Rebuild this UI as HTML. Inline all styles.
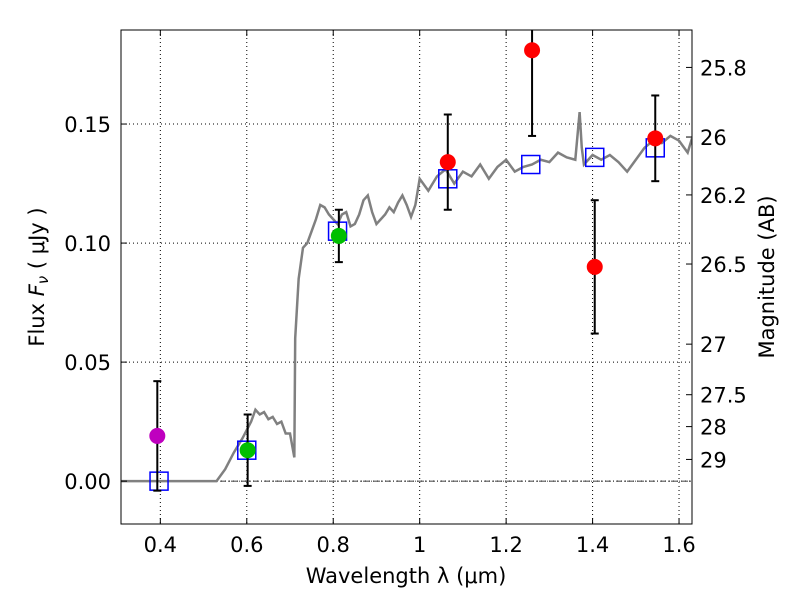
<!DOCTYPE html>
<html><head><meta charset="utf-8"><style>
html,body{margin:0;padding:0;background:#fff;}
svg text{font-family:"DejaVu Sans","Liberation Sans",sans-serif;fill:#000;}
</style></head><body>
<svg id="chart" width="800" height="600" viewBox="0 0 800 600" xmlns="http://www.w3.org/2000/svg">
<defs><clipPath id="plotclip"><rect x="121" y="30" width="571" height="494"/></clipPath></defs>
<rect width="800" height="600" fill="#fff"/>
<g id="grid"></g>
<g id="spec" clip-path="url(#plotclip)"></g>
<g id="marks" clip-path="url(#plotclip)"></g>
<rect x="121" y="30" width="571" height="494" fill="none" stroke="#000" stroke-width="1"/>
<g id="axes"></g>
<text x="406" y="583" font-size="21" text-anchor="middle">Wavelength  λ (μm)</text>
<text transform="translate(44,277) rotate(-90)" font-size="21" text-anchor="middle">Flux  <tspan font-style="italic">F</tspan><tspan font-style="italic" font-size="15" dy="4">ν</tspan><tspan dy="-4">  ( μJy )</tspan></text>
<text transform="translate(774,277) rotate(-90)" font-size="21" text-anchor="middle">Magnitude (AB)</text>
</svg>
<script>
const xTicks=[0.4,0.6,0.8,1.0,1.2,1.4,1.6];
const xTickLabels=["0.4","0.6","0.8","1","1.2","1.4","1.6"];
const yTicks=[0,0.05,0.10,0.15];
const yTickLabels=["0.00","0.05","0.10","0.15"];
const magTicks=[25.8,26,26.2,26.5,27,27.5,28,29];
const magTickLabels=["25.8","26","26.2","26.5","27","27.5","28","29"];
const specLam=[0.31,0.53,0.55,0.57,0.59,0.61,0.62,0.63,0.64,0.65,0.66,0.67,0.68,0.69,0.70,0.71,0.712,0.72,0.73,0.74,0.75,0.76,0.77,0.78,0.79,0.80,0.81,0.82,0.83,0.84,0.85,0.86,0.87,0.88,0.89,0.90,0.91,0.92,0.93,0.94,0.95,0.96,0.97,0.98,0.99,1.0,1.02,1.04,1.06,1.08,1.10,1.12,1.14,1.16,1.18,1.20,1.22,1.24,1.26,1.28,1.30,1.32,1.34,1.36,1.37,1.375,1.38,1.40,1.42,1.44,1.46,1.48,1.50,1.52,1.54,1.56,1.58,1.60,1.62,1.63];
const specFlux=[0,0,0.005,0.012,0.018,0.025,0.03,0.028,0.029,0.026,0.027,0.024,0.025,0.02,0.02,0.01,0.06,0.085,0.098,0.1,0.105,0.11,0.116,0.115,0.112,0.11,0.108,0.112,0.113,0.107,0.108,0.112,0.118,0.12,0.113,0.108,0.11,0.112,0.115,0.113,0.117,0.12,0.116,0.111,0.116,0.127,0.122,0.128,0.131,0.125,0.13,0.128,0.133,0.127,0.132,0.135,0.13,0.132,0.133,0.135,0.134,0.138,0.136,0.135,0.155,0.14,0.133,0.137,0.135,0.137,0.134,0.13,0.135,0.14,0.143,0.142,0.145,0.143,0.138,0.144];
const modelLam=[0.397,0.6,0.81,1.065,1.257,1.405,1.545];
const modelFlux=[0,0.013,0.105,0.127,0.133,0.136,0.14];
const obsLam=[0.393,0.602,0.813,1.065,1.26,1.405,1.545];
const obsFlux=[0.019,0.013,0.103,0.134,0.181,0.09,0.144];
const obsErr=[0.023,0.015,0.011,0.020,0.036,0.028,0.018];
const obsColor=["#bf00bf","#00bf00","#00bf00","#ff0000","#ff0000","#ff0000","#ff0000"];

const L=121,R=692,T=30,B=524;
const xmin=0.309,xmax=1.63,ymin=-0.018,ymax=0.1895;
const X=v=>L+(v-xmin)/(xmax-xmin)*(R-L);
const Y=v=>B-(v-ymin)/(ymax-ymin)*(B-T);
const NS="http://www.w3.org/2000/svg";
function mk(tag,attrs,parent){const e=document.createElementNS(NS,tag);for(const k in attrs)e.setAttribute(k,attrs[k]);parent.appendChild(e);return e;}
const grid=document.getElementById('grid'),axes=document.getElementById('axes'),spec=document.getElementById('spec'),marks=document.getElementById('marks');
xTicks.forEach((t,i)=>{const x=X(t);
 const g=mk('line',{x1:x,x2:x,y1:T,y2:B,stroke:'#000','stroke-dasharray':'1,3','stroke-width':1},grid);
 
 
 mk('line',{x1:x,x2:x,y1:B,y2:B-6,stroke:'#000'},axes);
 mk('line',{x1:x,x2:x,y1:T,y2:T+6,stroke:'#000'},axes);
 const tx=mk('text',{x:x,y:B+28,'font-size':21,'text-anchor':'middle'},axes);tx.textContent=xTickLabels[i];
 
 });
yTicks.forEach((t,i)=>{const y=Y(t);
 const g=mk('line',{x1:L,x2:R,y1:y,y2:y,stroke:'#000','stroke-dasharray':'1,3','stroke-width':1},grid);
 
 
 mk('line',{x1:L,x2:L+6,y1:y,y2:y,stroke:'#000'},axes);
 const tx=mk('text',{x:L-10,y:y+8,'font-size':21,'text-anchor':'end'},axes);tx.textContent=yTickLabels[i];
 
 });
magTicks.forEach((m,i)=>{const y=Y(Math.pow(10,(23.9-m)/2.5));
 mk('line',{x1:R,x2:R-6,y1:y,y2:y,stroke:'#000'},axes);
 const tx=mk('text',{x:R+8,y:y+8,'font-size':21},axes);tx.textContent=magTickLabels[i];
 
 });
const zl=mk('line',{x1:L,x2:R,y1:Y(0),y2:Y(0),stroke:'#000','stroke-dasharray':'6,2,1,2','stroke-width':0.8},grid);


const p=mk('polyline',{points:specLam.map((l,i)=>X(l)+','+Y(specFlux[i])).join(' '),fill:'none',stroke:'#808080','stroke-width':2.5},spec);


modelLam.forEach((l,i)=>{const r=mk('rect',{x:X(l)-9,y:Y(modelFlux[i])-9,width:18,height:18,fill:'none',stroke:'#0000ff','stroke-width':1.5},marks);
 
 });
obsLam.forEach((l,i)=>{const x=X(l),y1=Y(obsFlux[i]-obsErr[i]),y2=Y(obsFlux[i]+obsErr[i]);
 const e=mk('g',{},marks);
 
 
 mk('line',{x1:x,x2:x,y1:y1,y2:y2,stroke:'#000','stroke-width':2},e);
 mk('line',{x1:x-4,x2:x+4,y1:y1,y2:y1,stroke:'#000','stroke-width':2},e);
 mk('line',{x1:x-4,x2:x+4,y1:y2,y2:y2,stroke:'#000','stroke-width':2},e);
 mk('circle',{cx:x,cy:Y(obsFlux[i]),r:8,fill:obsColor[i]},e);});
</script>
</body></html>
